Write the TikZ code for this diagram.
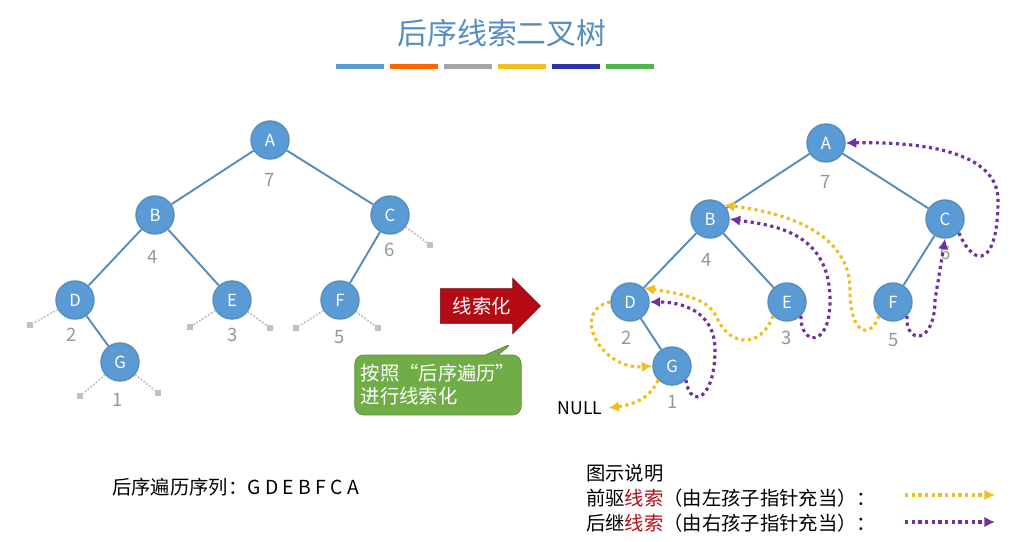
\documentclass[tikz,border=0pt]{standalone}
\usepackage{fontspec}
\setmainfont{Noto Sans CJK SC}
\usetikzlibrary{shapes.symbols, shapes.arrows, shapes.callouts, arrows.meta}
\definecolor{nodeblue}{RGB}{91,155,213}
\definecolor{edgeblue}{RGB}{84,141,190}
\definecolor{numgrey}{RGB}{150,150,150}
\definecolor{thrY}{RGB}{240,190,30}
\definecolor{thrP}{RGB}{112,48,160}
\definecolor{darkred}{RGB}{180,10,20}
\definecolor{calloutgreen}{RGB}{112,173,71}

\tikzset{
  tnode/.style={circle, fill=nodeblue, draw=edgeblue, thick, minimum size=0.76cm, inner sep=0pt, text=white, font=\fontsize{9.5}{10}\selectfont},
  tedge/.style={edgeblue, line width=1.1pt},
  num/.style={text=numgrey, font=\fontsize{10.5}{11}\selectfont},
  stub/.style={numgrey!60, densely dotted, line width=1pt},
  stubend/.style={fill=numgrey!60, minimum size=0.12cm, inner sep=0pt},
  prethr/.style={thrY, line width=1.8pt, dotted, -{Latex[length=6pt,width=6pt]}},
  sucthr/.style={thrP, line width=1.8pt, dotted, -{Latex[length=6pt,width=6pt]}},
  txt/.style={font=\fontsize{11}{13}\selectfont}
}

\begin{document}
\begin{tikzpicture}[x=0.02cm, y=-0.02cm]
  \useasboundingbox (0,0) rectangle (1024,541);

  % title
  \node (title) at (502,33) {\fontsize{17}{19}\selectfont\color{edgeblue}后序线索二叉树};
  \foreach \c [count=\i] in {nodeblue, orange!80!red, gray!70, thrY, blue!60!black!80, green!60!black!70}
    \fill[\c] (336+\i*54-54,64) rectangle (384+\i*54-54,69);

  % left tree
  \node[tnode] (A) at (270,140) {A};
  \node[tnode] (B) at (155,215) {B};
  \node[tnode] (C) at (390,215) {C};
  \node[tnode] (D) at (75,300) {D};
  \node[tnode] (E) at (232,300) {E};
  \node[tnode] (F) at (340,300) {F};
  \node[tnode] (G) at (120,362) {G};
  \draw[tedge] (A) -- (B); \draw[tedge] (A) -- (C);
  \draw[tedge] (B) -- (D); \draw[tedge] (B) -- (E);
  \draw[tedge] (C) -- (F); \draw[tedge] (D) -- (G);
  \node[num] at (270,180) {7}; \node[num] at (153,257) {4};
  \node[num] at (390,250) {6}; \node[num] at (72,335) {2};
  \node[num] at (233,335) {3}; \node[num] at (340,337) {5};
  \node[num] at (118,400) {1};
  % null stubs
  \foreach \n/\x/\y/\k in {C/430/245/c1, D/30/325/d1, E/190/327/e1, E/270/328/e2, F/296/328/f1, F/378/328/f2, G/80/396/g1, G/158/393/g2}{
    \node[stubend] (\k) at (\x,\y) {};
    \draw[stub] (\n) -- (\k);
  }

  % arrow + callout
  \node[single arrow, fill=darkred, draw=darkred!70!black, text=white, minimum height=2.0cm, minimum width=1.1cm, single arrow head extend=0.15cm, inner sep=2pt, font=\fontsize{11}{13}\selectfont, anchor=west] (conv) at (440,306) {线索化\hspace{0.3cm}};
  \node[rectangle callout, rounded corners=5pt, fill=calloutgreen, draw=calloutgreen!80!black, text=white, align=left, font=\fontsize{11}{13}\selectfont, minimum width=3.05cm, minimum height=1.2cm, callout absolute pointer={(513,343)}] (note) at (438,385) {按照“后序遍历”\\进行线索化};

  % right tree
  \node[tnode] (rA) at (826,143) {A};
  \node[tnode] (rB) at (710,219) {B};
  \node[tnode] (rC) at (945,219) {C};
  \node[tnode] (rD) at (630,302) {D};
  \node[tnode] (rE) at (787,302) {E};
  \node[tnode] (rF) at (893,302) {F};
  \node[tnode] (rG) at (672,366) {G};
  \draw[tedge] (rA) -- (rB); \draw[tedge] (rA) -- (rC);
  \draw[tedge] (rB) -- (rD); \draw[tedge] (rB) -- (rE);
  \draw[tedge] (rC) -- (rF); \draw[tedge] (rD) -- (rG);
  \node[num] at (826,182) {7}; \node[num] at (707,260) {4};
  \node[num] at (946,253) {6}; \node[num] at (627,338) {2};
  \node[num] at (787,338) {3}; \node[num] at (894,340) {5};
  \node[num] at (673,402) {1};
  \node[font=\fontsize{10}{12}\selectfont] (null) at (580,408) {NULL};

  % threads
  \draw[prethr] (rG.south west) .. controls (650,400) and (630,405) .. (null.east);
  \draw[prethr] (rD.west) .. controls (570,310) and (600,370) .. (rG.west);
  \draw[prethr] (rE.south west) .. controls (760,350) and (730,345) .. (718,320) .. controls (710,300) and (690,295) .. (rD.north east);
  \draw[prethr] (rF.south west) .. controls (870,340) and (850,335) .. (850,290) .. controls (850,230) and (780,212) .. (rB.north east);
  \draw[sucthr] (rG.south east) .. controls (690,410) and (715,400) .. (715,350) .. controls (715,310) and (680,302) .. (rD.east);
  \draw[sucthr] (rE.south east) .. controls (800,345) and (830,350) .. (830,300) .. controls (830,230) and (770,225) .. (rB.east);
  \draw[sucthr] (rF.south east) .. controls (905,345) and (935,345) .. (935,300) -- (rC.south);
  \draw[sucthr] (rC.south east) .. controls (975,270) and (998,265) .. (998,200) .. controls (998,145) and (900,142) .. (rA.east);

  % sequence and legend
  \node[txt, anchor=west] (seq) at (106,487) {后序遍历序列：G D E B F C A};
  \node[txt, anchor=west] (lg0) at (580,473) {图示说明};
  \node[txt, anchor=west] (lg1) at (580,498) {前驱\textcolor{darkred}{线索}（由左孩子指针充当）：};
  \node[txt, anchor=west] (lg2) at (580,523) {后继\textcolor{darkred}{线索}（由右孩子指针充当）：};
  \coordinate (y0) at (905,495); \coordinate (y1) at (995,495);
  \coordinate (p0) at (905,522); \coordinate (p1) at (995,522);
  \draw[prethr] (y0) -- (y1);
  \draw[sucthr] (p0) -- (p1);
\end{tikzpicture}
\end{document}
